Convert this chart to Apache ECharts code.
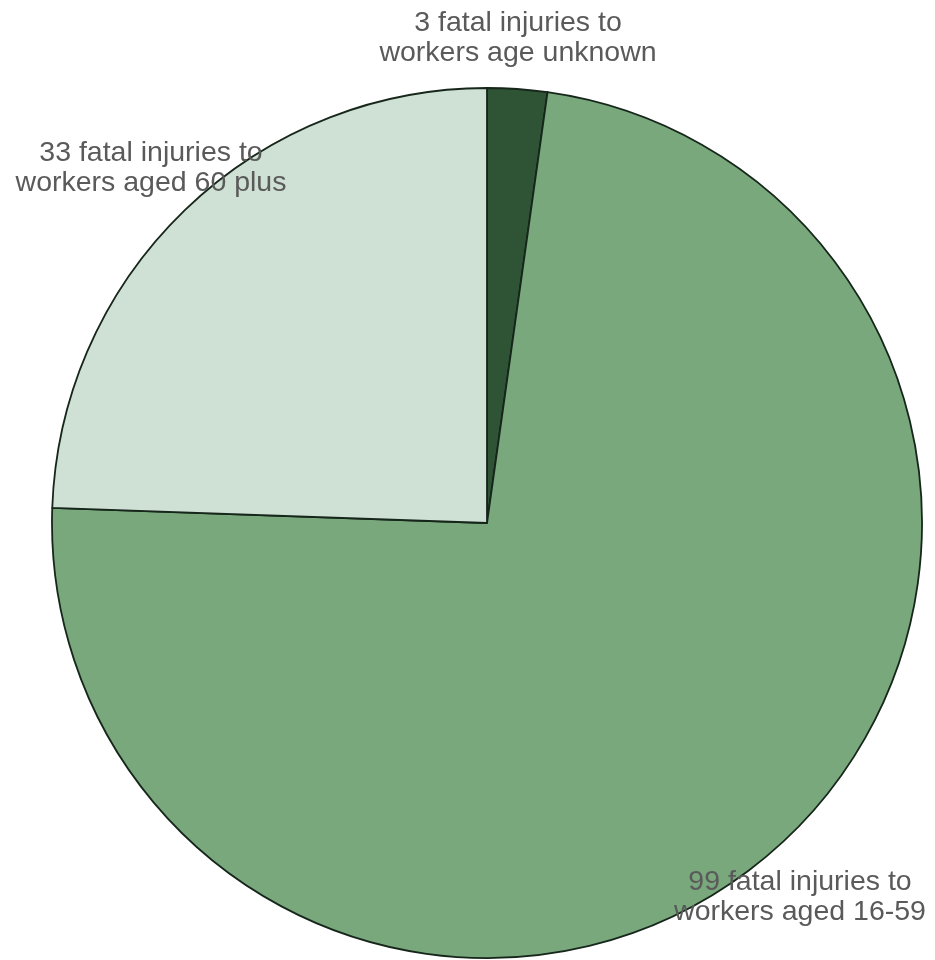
<!DOCTYPE html>
<html>
<head>
<meta charset="utf-8">
<script src="https://cdn.jsdelivr.net/npm/echarts@6/dist/echarts.min.js"></script>
<style>html,body{margin:0;padding:0;background:#fff;}#c{width:935px;height:960px;}</style>
</head>
<body>
<div id="c"></div>
<script>
const categories = ['age unknown', 'aged 16-59', 'aged 60 plus'];
const values = [3, 99, 33];
const colors = ['#2f5435', '#79a87d', '#cfe0d4'];
const labelPos = [[518, 38], [800, 897], [151, 168]];

const chart = echarts.init(document.getElementById('c'), null, {renderer: 'canvas'});
chart.setOption({
  animation: false,
  backgroundColor: '#ffffff',
  series: [{
    type: 'pie',
    center: [487, 523],
    radius: 435,
    startAngle: 90,
    clockwise: true,
    avoidLabelOverlap: false,
    data: categories.map((c, i) => ({name: c, value: values[i], itemStyle: {color: colors[i]}})),
    itemStyle: {borderColor: '#16261a', borderWidth: 1.8},
    label: {
      show: true,
      position: 'outside',
      formatter: p => p.value + ' fatal injuries to\nworkers ' + p.name,
      fontFamily: 'Liberation Sans, Arial, sans-serif',
      fontSize: 28.5,
      lineHeight: 30,
      color: '#5a5a5a',
      align: 'center'
    },
    labelLine: {show: false},
    labelLayout: p => ({
      x: labelPos[p.dataIndex][0],
      y: labelPos[p.dataIndex][1],
      align: 'center',
      verticalAlign: 'middle'
    }),
    emphasis: {disabled: true}
  }]
});
</script>
</body>
</html>
